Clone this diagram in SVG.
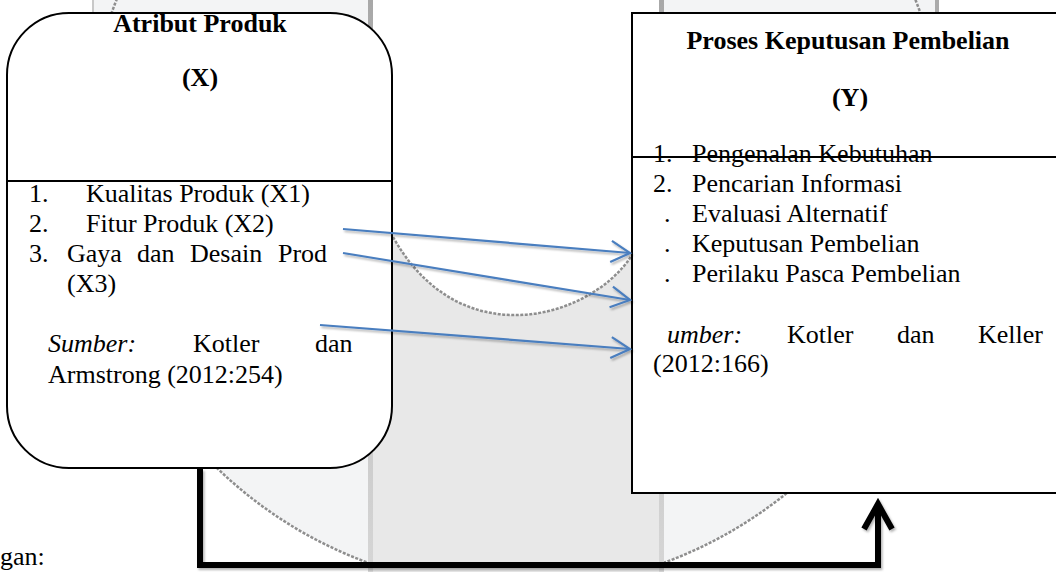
<svg xmlns="http://www.w3.org/2000/svg" width="1056" height="572" viewBox="0 0 1056 572">
<style>
.t{font-family:"Liberation Serif","Times New Roman",serif;font-size:26px;fill:#000}
.b{font-weight:bold}
.i{font-style:italic}
.m{text-anchor:middle}
.box{fill:#fff;stroke:#000;stroke-width:2}
.blue{fill:none;stroke:#4a7ebf;stroke-width:2.2;marker-end:url(#ahb)}
.dash{fill:none;stroke:#8e8e8e;stroke-width:2.5;stroke-dasharray:3 1.5}
</style>
<defs>
<clipPath id="sides">
<rect x="93" y="0" width="278" height="572"/>
<rect x="662" y="0" width="276" height="572"/>
</clipPath>
<linearGradient id="barg" x1="0" y1="0" x2="0" y2="1">
<stop offset="0" stop-color="#a8a8a8"/>
<stop offset="1" stop-color="#d6d6d6"/>
</linearGradient>
<filter id="sh" filterUnits="userSpaceOnUse" x="0" y="0" width="1056" height="572">
<feDropShadow dx="1.5" dy="2" stdDeviation="1" flood-color="#000" flood-opacity="0.3"/>
</filter>
<marker id="ahb" viewBox="0 0 22 24" refX="20" refY="12" markerWidth="22" markerHeight="24" markerUnits="userSpaceOnUse" orient="auto" overflow="visible">
<path d="M1,1.5 L20,12 L1,22.5" fill="none" stroke="#4a7ebf" stroke-width="2.2"/>
</marker>
<marker id="ahk" viewBox="0 0 34 34" refX="28" refY="17" markerWidth="34" markerHeight="34" markerUnits="userSpaceOnUse" orient="auto" overflow="visible">
<path d="M3,3 L28,17 L3,31" fill="none" stroke="#000" stroke-width="6"/>
</marker>
</defs>

<g id="background">
<g clip-path="url(#sides)">
<rect x="0" y="0" width="1056" height="572" fill="#fff"/>
<circle cx="516" cy="159" r="430" fill="#f3f4f5"/>
<rect x="0" y="0" width="1056" height="220" fill="#f3f4f5"/>
<circle cx="516" cy="159" r="430" class="dash"/>
</g>
<rect x="371" y="0" width="291" height="572" fill="#e8e8e8"/>
<path d="M371,0 H662 V240 L632,255 C610,290 560,317 510,315 C460,313 420,285 393,237 L371,205 Z" fill="#fff"/>
<path d="M393,237 C420,285 460,313 510,315 C560,317 610,290 632,255" class="dash"/>
<rect x="368" y="0" width="5" height="572" fill="url(#barg)"/>
<rect x="659" y="0" width="5" height="572" fill="url(#barg)"/>
<rect x="92" y="0" width="2" height="14" fill="#c8c8c8"/>
<rect x="935" y="0" width="4" height="14" fill="#ababab"/>
</g>

<g id="node-x">
<rect x="7" y="13" width="385" height="455" rx="62" ry="62" class="box"/>
<line x1="7" y1="181" x2="392" y2="181" stroke="#000" stroke-width="2"/>
<text x="200" y="32" class="t b m">Atribut Produk</text>
<text x="200" y="86" class="t b m">(X)</text>
<text x="29" y="202" class="t">1.</text>
<text x="86" y="202" class="t">Kualitas Produk (X1)</text>
<text x="29" y="232" class="t">2.</text>
<text x="86" y="232" class="t">Fitur Produk (X2)</text>
<text x="29" y="262" class="t">3.</text>
<text x="67" y="262" class="t">Gaya</text>
<text x="137" y="262" class="t">dan</text>
<text x="190" y="262" class="t">Desain</text>
<text x="278" y="262" class="t">Prod</text>
<text x="67" y="292" class="t">(X3)</text>
<text x="48" y="352" class="t i">Sumber:</text>
<text x="193" y="352" class="t">Kotler</text>
<text x="315" y="352" class="t">dan</text>
<text x="48" y="383" class="t">Armstrong (2012:254)</text>
</g>

<g id="node-y">
<rect x="632" y="13" width="440" height="480" class="box"/>
<line x1="632" y1="157" x2="1056" y2="157" stroke="#000" stroke-width="2"/>
<text x="848" y="49" class="t b m">Proses Keputusan Pembelian</text>
<text x="850" y="106" class="t b m">(Y)</text>
<text x="653" y="162" class="t">1.</text>
<text x="692" y="162" class="t">Pengenalan Kebutuhan</text>
<text x="653" y="192" class="t">2.</text>
<text x="692" y="192" class="t">Pencarian Informasi</text>
<text x="664" y="222" class="t">.</text>
<text x="692" y="222" class="t">Evaluasi Alternatif</text>
<text x="664" y="252" class="t">.</text>
<text x="692" y="252" class="t">Keputusan Pembelian</text>
<text x="664" y="282" class="t">.</text>
<text x="692" y="282" class="t">Perilaku Pasca Pembelian</text>
<text x="667" y="343" class="t i">umber:</text>
<text x="787" y="343" class="t">Kotler</text>
<text x="897" y="343" class="t">dan</text>
<text x="978" y="343" class="t">Keller</text>
<text x="653" y="372" class="t">(2012:166)</text>
</g>

<g id="connectors" filter="url(#sh)">
<line x1="343" y1="229" x2="630" y2="253" class="blue"/>
<line x1="343" y1="253" x2="630" y2="300" class="blue"/>
<line x1="320" y1="325" x2="630" y2="349" class="blue"/>
<path d="M200,469 V565 H878 V504" fill="none" stroke="#000" stroke-width="6" marker-end="url(#ahk)"/>
</g>

<text x="0" y="565" class="t">gan:</text>
</svg>
